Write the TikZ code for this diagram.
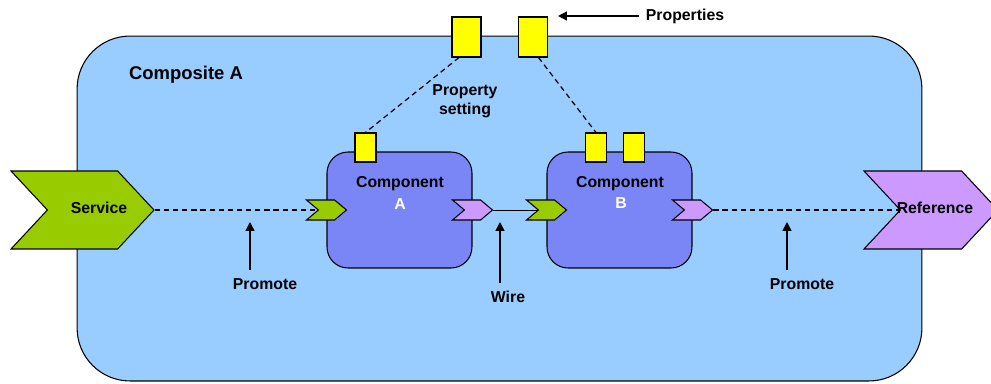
\documentclass[tikz,border=0pt]{standalone}
\usepackage{fontspec}
\setmainfont{Liberation Sans}
\usepackage{xcolor}
\usetikzlibrary{arrows.meta,positioning,calc,shapes.symbols}
\definecolor{compositebg}{RGB}{153,204,255}
\definecolor{compbg}{RGB}{122,133,246}
\definecolor{svcgreen}{RGB}{153,204,0}
\definecolor{refpurple}{RGB}{204,153,255}
\definecolor{propyellow}{RGB}{255,255,0}
\tikzset{
  txt/.style       = {font=\fontsize{9}{11}\selectfont\bfseries, inner sep=0pt, align=center},
  composite/.style = {draw, fill=compositebg, rounded corners=1.06cm, line width=0.6pt,
                      minimum width=16.9cm, minimum height=6.9cm},
  comp/.style      = {draw, fill=compbg, rounded corners=0.42cm, line width=0.6pt,
                      minimum width=2.9cm, minimum height=2.32cm},
  chev/.style      = {draw, signal, signal to=east, signal from=west, inner sep=0pt,
                      line width=0.6pt},
  bigchev/.style   = {chev, minimum height=1.56cm, signal pointer angle=94},
  smallchev/.style = {chev, minimum height=0.4cm, minimum width=0.8cm, signal pointer angle=80},
  prop/.style      = {draw, fill=propyellow, line width=0.6pt, inner sep=0pt},
  bigprop/.style   = {prop, minimum width=0.58cm, minimum height=0.8cm},
  smallprop/.style = {prop, minimum width=0.42cm, minimum height=0.58cm},
  promo/.style     = {dash pattern=on 3pt off 2.2pt, line width=0.7pt},
  wire/.style      = {line width=0.5pt},
  arr/.style       = {-{Triangle[length=5pt,width=5pt]}, line width=0.8pt}
}

\begin{document}
\begin{tikzpicture}[x=0.02cm, y=-0.02cm]
\useasboundingbox (0,0) rectangle (991,383);

% --- composite ---
\node[composite] (compo) at (499.5,208.5) {};
\node[txt, font=\fontsize{10.5}{12}\selectfont\bfseries] (compoLbl) at (186,75) {Composite A};

% --- components ---
\node[comp] (compA) at (399.5,210) {};
\node[comp] (compB) at (619.5,210) {};
\node[txt] (compAname) at (400,184) {Component};
\node[txt, text=white] (compAid) at (400,204) {A};
\node[txt] (compBname) at (620,184) {Component};
\node[txt, text=white] (compBid) at (621,203) {B};

% --- service / reference ---
\node[bigchev, fill=svcgreen, minimum width=2.86cm] (svc) at (82.5,210) {};
\node[txt] (svcLbl) at (99,208) {Service};
\node[bigchev, fill=refpurple, minimum width=2.68cm] (ref) at (931,210) {};
\node[txt] (refLbl) at (935,208) {Reference};

% small chevrons on the component borders
\node[smallchev, fill=svcgreen]  (svcA) at (compA.west) {};
\node[smallchev, fill=refpurple] (refA) at (compA.east) {};
\node[smallchev, fill=svcgreen]  (svcB) at (compB.west) {};
\node[smallchev, fill=refpurple] (refB) at (compB.east) {};

\draw[promo] (svc.east) -- (svcA.west);
\draw[wire]  (refA.east) -- (svcB.west);
\draw[promo] (refB.east) -- (ref.west);

% --- properties ---
\node[bigprop] (ptop1) at (466.5,37) {};
\node[bigprop] (ptop2) at (533,37) {};
\node[smallprop] (propA)  at (365.5,147.5) {};
\node[smallprop] (propB1) at (596,147.5) {};
\node[smallprop] (propB2) at (634,147.5) {};

\draw[promo] (ptop1.250) -- (propA.north);
\draw[promo] (ptop2.285) -- (propB1.north);
\node[txt] (pset) at (465,101) {Property\\setting};

\node[txt] (props) at (685,16) {Properties};
\draw[arr, shorten <=4pt, shorten >=5.7pt] (props.west) -- (props.west -| ptop2.east);

% --- pointer arrows under the lines ---
\foreach \n/\x/\ty/\lx/\ly/\t in {prL/250/270/265/284/Promote,
                                  wr/500/283/508/297/Wire,
                                  prR/787/270/802/284/Promote} {
  \coordinate (\n tail) at (\x,\ty);
  \coordinate (\n head) at (\x,222);
  \draw[arr] (\n tail) -- (\n head);
  \node[txt] (\n lbl) at (\lx,\ly) {\t};
}

\end{tikzpicture}
\end{document}
